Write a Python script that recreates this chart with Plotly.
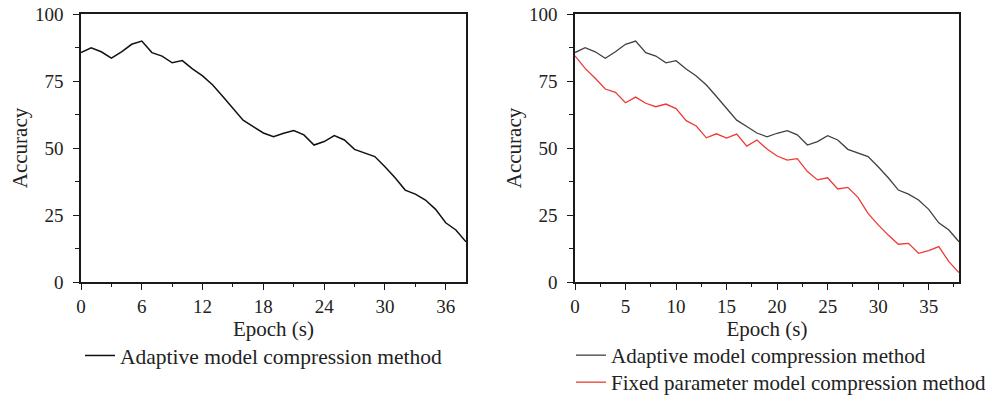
import plotly.graph_objects as go

epochs = list(range(39))
adaptive = [85.6, 87.4, 85.9, 83.5, 85.9, 88.7, 89.9, 85.6, 84.3, 81.8,
            82.6, 79.5, 76.9, 73.5, 69.2, 64.8, 60.4, 58.0, 55.6, 54.2,
            55.5, 56.5, 54.9, 51.1, 52.4, 54.6, 53.0, 49.5, 48.0, 46.8,
            43.0, 38.9, 34.3, 32.8, 30.6, 27.1, 22.1, 19.4, 15.0]
fixed = [84.4, 79.7, 76.0, 72.0, 70.8, 66.9, 69.0, 66.7, 65.4, 66.4,
         64.7, 60.2, 58.2, 53.8, 55.3, 53.7, 55.2, 50.7, 53.0, 49.6,
         47.0, 45.5, 46.0, 41.2, 38.1, 38.9, 34.7, 35.3, 31.6, 25.6,
         21.3, 17.5, 14.1, 14.4, 10.7, 11.7, 13.2, 7.6, 3.5]

left_xticks = [0, 6, 12, 18, 24, 30, 36]
right_xticks = [0, 5, 10, 15, 20, 25, 30, 35]
yticks = [0, 25, 50, 75, 100]

FONT = "Liberation Serif"
W, H = 1002, 396
ML, MT = 81, 14
MR = W - 959
MB = H - 282
PW = W - ML - MR
PH = H - MT - MB


def px_x(page_x):
    return (page_x - ML) / PW


def px_y(page_y):
    return (H - MB - page_y) / PH


fig = go.Figure()
fig.add_trace(go.Scatter(x=epochs, y=adaptive, mode="lines",
                         name="Adaptive model compression method",
                         line=dict(color="#111111", width=1.5),
                         xaxis="x", yaxis="y", legend="legend"))
fig.add_trace(go.Scatter(x=epochs, y=adaptive, mode="lines",
                         name="Adaptive model compression method",
                         line=dict(color="#404040", width=1.3),
                         xaxis="x2", yaxis="y2", legend="legend2"))
fig.add_trace(go.Scatter(x=epochs, y=fixed, mode="lines",
                         name="Fixed parameter model compression method",
                         line=dict(color="#ee3a33", width=1.3),
                         xaxis="x2", yaxis="y2", legend="legend3"))

axis_common = dict(showline=True, linecolor="#1a1a1a", linewidth=1.5, mirror=True,
                   ticks="outside", ticklen=6, tickwidth=1.2, tickcolor="#1a1a1a",
                   showgrid=False, zeroline=False, automargin=False,
                   ticklabeloverflow="allow",
                   tickfont=dict(family=FONT, size=19, color="#222"))
minor_x = dict(ticks="outside", ticklen=3, tickwidth=1.2, tickcolor="#1a1a1a", showgrid=False)
minor_y = dict(dtick=12.5, tick0=0, ticks="outside", ticklen=4, tickwidth=1.2,
               tickcolor="#1a1a1a", showgrid=False)

d1 = [0, px_x(466)]
d2 = [px_x(575), 1]

legend_common = dict(xanchor="left", yanchor="top", bgcolor="rgba(0,0,0,0)", tracegroupgap=0)
left_legend_font = dict(family=FONT, size=21.5, color="#222")
right_legend_font = dict(family=FONT, size=21, color="#222")

title_font = dict(family=FONT, size=21, color="#222")

fig.update_layout(
    width=W, height=H,
    margin=dict(l=ML, r=MR, t=MT, b=MB, autoexpand=False),
    paper_bgcolor="white", plot_bgcolor="white",
    font=dict(family=FONT, color="#222"),
    xaxis=dict(domain=d1, range=[0, 38], tickvals=left_xticks, anchor="y",
               title=dict(text="Epoch (s)", font=title_font, standoff=2),
               minor=dict(dtick=3, tick0=0, **minor_x), **axis_common),
    yaxis=dict(range=[0, 100], tickvals=yticks, anchor="x", ticklabelstandoff=6,
               title=dict(text="Accuracy", font=title_font, standoff=2),
               minor=minor_y, **axis_common),
    xaxis2=dict(domain=d2, range=[0, 38], tickvals=right_xticks, anchor="y2",
                title=dict(text="Epoch (s)", font=title_font, standoff=2),
                minor=dict(dtick=2.5, tick0=0, **minor_x), **axis_common),
    yaxis2=dict(range=[0, 100], tickvals=yticks, anchor="x2", ticklabelstandoff=6,
                title=dict(text="Accuracy", font=title_font, standoff=2),
                minor=minor_y, **axis_common),
    legend=dict(x=px_x(80), y=px_y(335), font=left_legend_font, **legend_common),
    legend2=dict(x=px_x(571), y=px_y(335), font=right_legend_font, **legend_common),
    legend3=dict(x=px_x(571), y=px_y(362), font=right_legend_font, **legend_common),
    showlegend=True,
)

fig.write_html("out.html", config={"displayModeBar": False},
               post_script="document.body.style.margin='0px';")
